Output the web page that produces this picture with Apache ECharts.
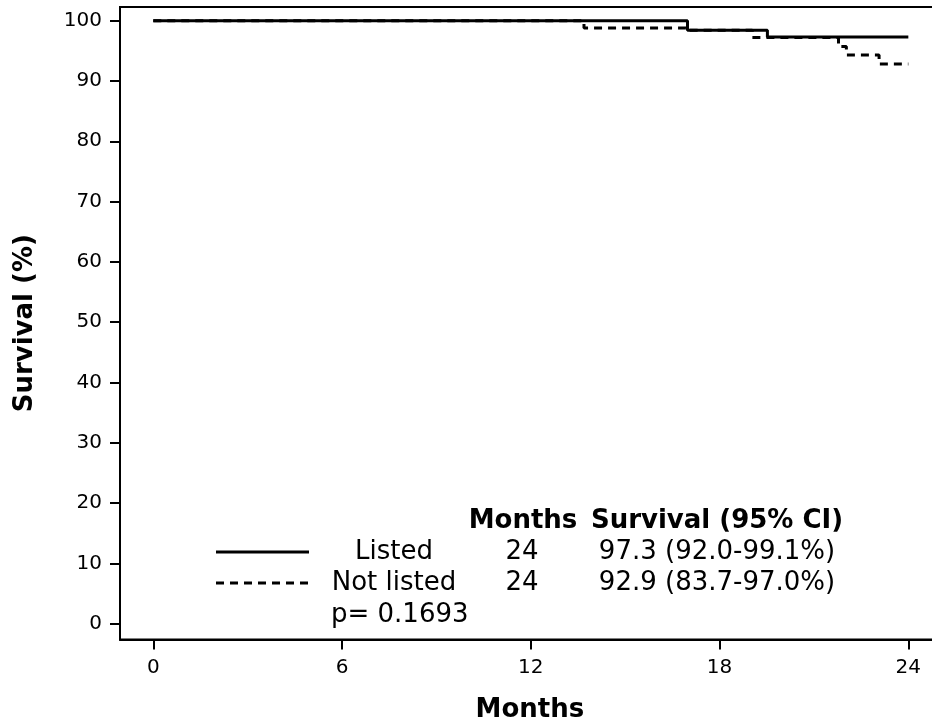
<!DOCTYPE html>
<html>
<head>
<meta charset="utf-8">
<script src="https://cdn.jsdelivr.net/npm/echarts@6/dist/echarts.min.js"></script>
<style>
html,body{margin:0;padding:0;background:#fff;}
#chart{width:932px;height:727px;}
</style>
</head>
<body>
<div id="chart"></div>
<script>
// ---- data ----
const monthTicks = [0, 6, 12, 18, 24];
const survivalTicks = [0, 10, 20, 30, 40, 50, 60, 70, 80, 90, 100];
const listedMonths = [0, 16.98, 19.52, 24];
const listedSurvival = [100, 98.4, 97.3, 97.3];
const notListedMonths = [0, 13.69, 16.93, 19.04, 21.78, 22.03, 23.07, 24];
const notListedSurvival = [100, 98.8, 98.4, 97.2, 95.7, 94.3, 92.8, 92.8];
const groupNames = ['Listed', 'Not listed'];
const tableHeader = ['Months', 'Survival (95% CI)'];
const tableMonths = ['24', '24'];
const tableSurvival = ['97.3 (92.0-99.1%)', '92.9 (83.7-97.0%)'];
const pValueText = 'p= 0.1693';
const xTitle = 'Months';
const yTitle = 'Survival (%)';

const FONT = 'DejaVu Sans';
const zip = (a, b) => a.map((v, i) => [v, b[i]]);

const chart = echarts.init(document.getElementById('chart'), null, {renderer: 'canvas'});

const txt = (text, x, y, opts) => Object.assign({
  type: 'text', x: x, y: y,
  style: Object.assign({text: text, fontFamily: FONT, fontSize: 26, fill: '#000',
    textAlign: 'center', textVerticalAlign: 'middle'}, opts || {})
});

const row1 = 552, row2 = 583, row3 = 615, head = 521;
const graphic = [
  {type: 'line', shape: {x1: 216, y1: row1, x2: 309, y2: row1}, style: {stroke: '#000', lineWidth: 3}},
  {type: 'line', shape: {x1: 216, y1: row2, x2: 309, y2: row2}, style: {stroke: '#000', lineWidth: 3, lineDash: [8, 6]}},
  txt(tableHeader[0], 523, head, {fontWeight: 'bold'}),
  txt(tableHeader[1], 717, head, {fontWeight: 'bold'}),
  txt(groupNames[0], 394, row1),
  txt(groupNames[1], 394, row2),
  txt(tableMonths[0], 522, row1),
  txt(tableMonths[1], 522, row2),
  txt(tableSurvival[0], 717, row1),
  txt(tableSurvival[1], 717, row2),
  txt(pValueText, 331, row3, {textAlign: 'left'})
];

const option = {
  animation: false,
  backgroundColor: '#fff',
  grid: {left: 120, top: 7, width: 819.8, height: 632.5, show: true, borderColor: '#000', borderWidth: 2,
         containLabel: false, outerBoundsMode: 'none'},
  xAxis: {
    type: 'value', min: -1.058, max: 25,
    name: xTitle, nameLocation: 'middle', nameGap: 58,
    nameTextStyle: {fontFamily: FONT, fontWeight: 'bold', fontSize: 26, color: '#000'},
    axisLine: {show: true, onZero: false, lineStyle: {color: '#000', width: 2}},
    axisTick: {show: true, inside: false, length: 10, lineStyle: {color: '#000', width: 2}, customValues: monthTicks},
    axisLabel: {fontFamily: FONT, fontSize: 20, color: '#000', margin: 18, customValues: monthTicks},
    splitLine: {show: false}
  },
  yAxis: {
    type: 'value', min: -2.62, max: 102.27,
    name: yTitle, nameLocation: 'middle', nameGap: 82, nameRotate: 90,
    nameTextStyle: {fontFamily: FONT, fontWeight: 'bold', fontSize: 26, color: '#000'},
    axisLine: {show: true, onZero: false, lineStyle: {color: '#000', width: 2}},
    axisTick: {show: true, inside: false, length: 10, lineStyle: {color: '#000', width: 2}, customValues: survivalTicks},
    axisLabel: {fontFamily: FONT, fontSize: 20, color: '#000', margin: 18, customValues: survivalTicks},
    splitLine: {show: false}
  },
  series: [
    {type: 'line', name: groupNames[0], step: 'end', symbol: 'none',
     data: zip(listedMonths, listedSurvival),
     lineStyle: {color: '#000', width: 3}},
    {type: 'line', name: groupNames[1], step: 'end', symbol: 'none',
     data: zip(notListedMonths, notListedSurvival),
     lineStyle: {color: '#000', width: 3, type: [8, 6]}}
  ],
  graphic: graphic
};
chart.setOption(option);
</script>
</body>
</html>
